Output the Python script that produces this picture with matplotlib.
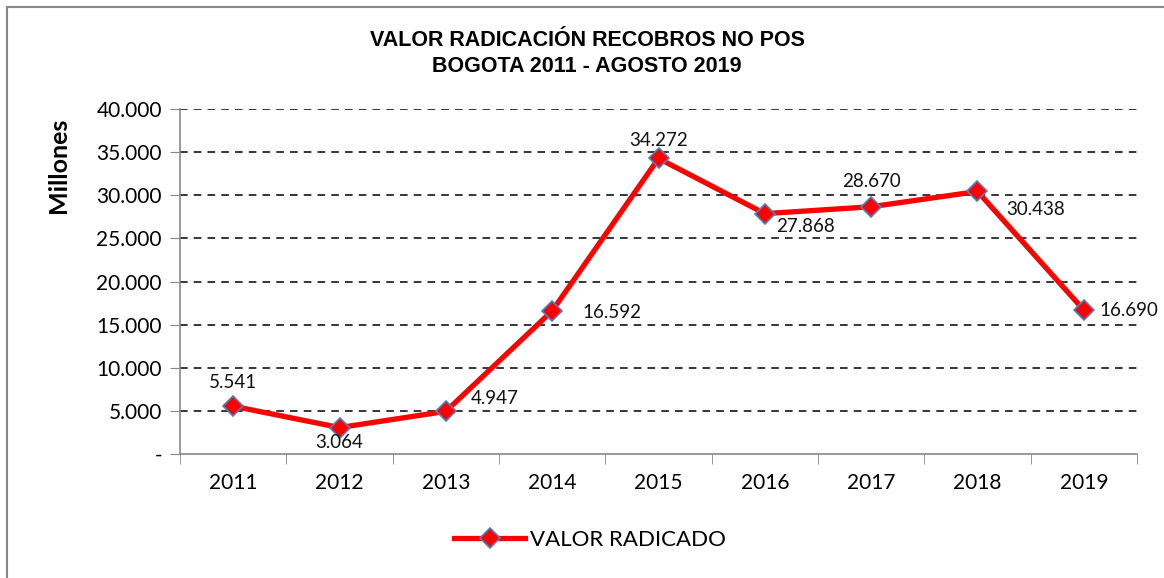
import matplotlib
matplotlib.use('Agg')
import matplotlib.pyplot as plt
from matplotlib.patches import Rectangle
from matplotlib.ticker import FuncFormatter, FixedLocator

years = ['2011', '2012', '2013', '2014', '2015', '2016', '2017', '2018', '2019']
valores = [5541, 3064, 4947, 16592, 34272, 27868, 28670, 30438, 16690]
etiquetas = ['5.541', '3.064', '4.947', '16.592', '34.272', '27.868', '28.670', '30.438', '16.690']
# offsets of the data labels (points)
offs = [(0, 17), (0, -11), (18, 9), (22, -1), (0, 13), (8, -9), (0, 18), (21, -13), (11, 0)]
has = ['center', 'center', 'left', 'left', 'center', 'left', 'center', 'left', 'left']

plt.rcParams['font.family'] = ['Lato', 'DejaVu Sans']

fig = plt.figure(figsize=(11.64, 5.78), dpi=100)
fig.patches.append(Rectangle((7 / 1164, -0.1), 1.2, 1 - 7 / 578 + 0.1, transform=fig.transFigure,
                             fill=False, edgecolor='#888888', linewidth=1.5))
ax = fig.add_axes([180 / 1164, 1 - 454 / 578, (1137 - 180) / 1164, (454 - 109) / 578])

x = list(range(len(years)))
line, = ax.plot(x, valores, color='#ff0000', linewidth=3.8, marker='D', markersize=10.5,
                markerfacecolor='#ff0000', markeredgecolor='#4f81bd', markeredgewidth=1.2,
                label='VALOR RADICADO', zorder=3)

for i in range(len(x)):
    ax.annotate(etiquetas[i], (x[i], valores[i]), xytext=offs[i], textcoords='offset points',
                ha=has[i], va='center', fontsize=13.5, color='#111111')

ax.set_xlim(-0.5, len(years) - 0.5)
ax.set_ylim(0, 40000)
ax.set_xticks(x)
ax.set_xticklabels(years, fontsize=15)
ax.xaxis.set_minor_locator(FixedLocator([i - 0.5 for i in range(len(years) + 1)]))
ax.tick_params(axis='x', which='major', length=0, pad=14)
ax.tick_params(axis='x', which='minor', length=7, color='#888888', direction='out')
ax.set_yticks(range(0, 40001, 5000))
ax.yaxis.set_major_formatter(FuncFormatter(lambda v, p: '-' if v == 0 else f'{int(v):,}'.replace(',', '.')))
ax.tick_params(axis='y', labelsize=15, length=7, color='#888888', pad=6)

for v in range(5000, 40001, 5000):
    ax.axhline(v, color='black', linestyle=(0, (5, 4)), linewidth=1.1, zorder=1)

for s in ['top', 'right']:
    ax.spines[s].set_visible(False)
for s in ['left', 'bottom']:
    ax.spines[s].set_color('#888888')
    ax.spines[s].set_linewidth(1.2)

fig.text(587 / 1164, 1 - 41 / 578, 'VALOR RADICACIÓN RECOBROS NO POS', ha='center', va='center',
         fontsize=15.5, fontweight='bold', family='Liberation Sans')
fig.text(587 / 1164, 1 - 66 / 578, 'BOGOTA 2011 - AGOSTO 2019', ha='center', va='center',
         fontsize=15.5, fontweight='bold', family='Liberation Sans')
fig.text(58 / 1164, 1 - 165 / 578, 'Millones', rotation=90, ha='center', va='center',
         fontsize=18, fontweight='bold')

fig.legend(handles=[line], loc='center', bbox_to_anchor=(590 / 1164, 1 - 540 / 578), frameon=False,
           fontsize=16, handlelength=3.2, handletextpad=0.2)

plt.savefig('out.png')
